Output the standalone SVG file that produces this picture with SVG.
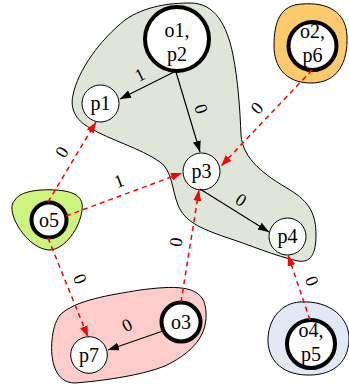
<svg xmlns="http://www.w3.org/2000/svg" width="349" height="389" viewBox="0 0 349 389">
  <style>
    .blob { stroke: #000; stroke-width: 1; }
    .node { fill: #fff; stroke: #000; stroke-width: 1; }
    .obj { fill: #fff; stroke: #000; stroke-width: 4; }
    .nl { font-family: "Liberation Serif", "Times New Roman", serif; font-size: 20px; fill: #000; text-anchor: middle; }
    .el { font-family: "Liberation Serif", "Times New Roman", serif; font-size: 18px; fill: #000; text-anchor: middle; dominant-baseline: central; }
    .solid { fill: none; stroke: #000; stroke-width: 1.2; marker-end: url(#ahBlack); }
    .dash { fill: none; stroke: #ff0000; stroke-width: 1.5; stroke-dasharray: 5 4; marker-end: url(#ahRed); }
  </style>
  <defs>
    <marker id="ahBlack" markerUnits="userSpaceOnUse" markerWidth="12" markerHeight="9" refX="11" refY="4" orient="auto">
      <path d="M0,0 L11,4 L0,8 z" fill="#000"/>
    </marker>
    <marker id="ahRed" markerUnits="userSpaceOnUse" markerWidth="12" markerHeight="9" refX="11" refY="4" orient="auto">
      <path d="M0,0 L11,4 L0,8 z" fill="#ff0000"/>
    </marker>
  </defs>

  <!-- clusters -->
  <g id="clusters">
    <path id="cluster-green" class="blob" fill="#dfe5d8" d="M 190,3 C 215,3 227,25 233,55 C 238,80 240,110 241,135 C 243,160 265,175 290,190 C 310,202 316,215 316,235 C 316,255 310,263 298,261 C 275,256 250,245 225,237 C 200,228 185,222 178,205 C 172,190 172,170 160,162 C 140,148 110,140 90,128 C 75,120 70,108 73,95 C 78,70 100,40 125,20 C 145,6 170,3 190,3 Z"/>
    <path id="cluster-orange" class="blob" fill="#fdca6b" d="M 302,4 C 328,2 346,12 347,36 C 348,62 338,83 311,83 C 285,83 274,66 274,46 C 274,22 280,5 302,4 Z"/>
    <path id="cluster-lime" class="blob" fill="#cdf47c" d="M 15,200 C 20,191 40,189 55,190 C 75,191 84,197 82,210 C 80,228 65,249 50,250 C 35,250 18,232 13,215 C 11,207 12,203 15,200 Z"/>
    <path id="cluster-pink" class="blob" fill="#ffcccc" d="M 60,315 C 75,300 110,295 140,290 C 172,286 200,284 205,305 C 210,330 198,350 165,366 C 140,376 100,381 75,383 C 55,383 50,360 52,340 C 53,330 55,322 60,315 Z"/>
    <path id="cluster-blue" class="blob" fill="#e2e8f5" d="M 300,302 C 330,300 350,318 349,340 C 348,365 330,376 306,375 C 280,374 267,358 268,338 C 269,318 282,303 300,302 Z"/>
  </g>

  <!-- nodes -->
  <g id="node-o1p2">
    <circle class="obj" cx="177" cy="39" r="32"/>
    <text class="nl" x="177" y="37">o1,</text>
    <text class="nl" x="177" y="61">p2</text>
  </g>
  <g id="node-p1">
    <circle class="node" cx="100.5" cy="103.5" r="18.5"/>
    <text class="nl" x="100.5" y="110">p1</text>
  </g>
  <g id="node-p3">
    <circle class="node" cx="201.5" cy="171.5" r="18.5"/>
    <text class="nl" x="201.5" y="178">p3</text>
  </g>
  <g id="node-p4">
    <circle class="node" cx="287.5" cy="236.5" r="18.5"/>
    <text class="nl" x="287.5" y="243">p4</text>
  </g>
  <g id="node-o5">
    <circle class="obj" cx="49" cy="220" r="17.5"/>
    <text class="nl" x="49" y="227">o5</text>
  </g>
  <g id="node-o3">
    <circle class="obj" cx="181" cy="322" r="19.5"/>
    <text class="nl" x="181" y="329">o3</text>
  </g>
  <g id="node-p7">
    <circle class="node" cx="89" cy="355" r="18.3"/>
    <text class="nl" x="89" y="362">p7</text>
  </g>
  <g id="node-o2p6">
    <circle class="obj" cx="312.5" cy="46" r="24"/>
    <text class="nl" x="312.5" y="38">o2,</text>
    <text class="nl" x="312.5" y="62">p6</text>
  </g>
  <g id="node-o4p5">
    <circle class="obj" cx="311" cy="344" r="24"/>
    <text class="nl" x="311" y="337">o4,</text>
    <text class="nl" x="311" y="361">p5</text>
  </g>

  <!-- connectors -->
  <g id="edges">
    <line class="solid" x1="174" y1="72" x2="120" y2="99"/>
    <line class="solid" x1="176" y1="72" x2="200" y2="152"/>
    <line class="solid" x1="200" y1="189" x2="269" y2="232"/>
    <line class="solid" x1="163" y1="331" x2="108" y2="350"/>
    <line class="dash" x1="48" y1="202" x2="96" y2="122"/>
    <line class="dash" x1="66" y1="216" x2="182" y2="173"/>
    <line class="dash" x1="48" y1="238" x2="88" y2="337"/>
    <line class="dash" x1="312" y1="70" x2="221" y2="166"/>
    <line class="dash" x1="181" y1="302" x2="199" y2="190"/>
    <line class="dash" x1="310" y1="320" x2="288" y2="255"/>

    <text class="el" transform="translate(140,75) rotate(-26)">1</text>
    <text class="el" transform="translate(201,109) rotate(72)">0</text>
    <text class="el" transform="translate(241,200) rotate(33)">0</text>
    <text class="el" transform="translate(127,325) rotate(-27)">0</text>
    <text class="el" transform="translate(62,152) rotate(-59)">0</text>
    <text class="el" transform="translate(119,181) rotate(-21)">1</text>
    <text class="el" transform="translate(80,279) rotate(68)">0</text>
    <text class="el" transform="translate(257,108) rotate(-47)">0</text>
    <text class="el" transform="translate(176,242) rotate(-81)">0</text>
    <text class="el" transform="translate(312,281) rotate(71)">0</text>
  </g>
</svg>
